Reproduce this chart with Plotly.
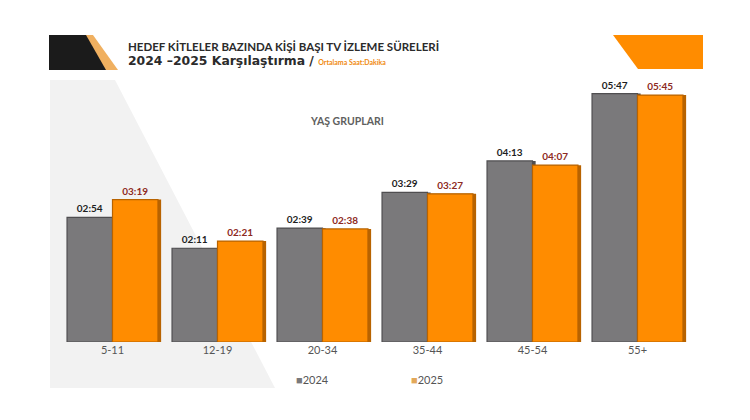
import plotly.graph_objects as go

# yaş grupları ve ortalama izleme süreleri (saat:dakika)
categories = ["5-11", "12-19", "20-34", "35-44", "45-54", "55+"]
times_2024 = ["02:54", "02:11", "02:39", "03:29", "04:13", "05:47"]
times_2025 = ["03:19", "02:21", "02:38", "03:27", "04:07", "05:45"]
years = ["2024", "2025"]


def to_minutes(t):
    h, m = t.split(":")
    return int(h) * 60 + int(m)


mins_2024 = [to_minutes(t) for t in times_2024]
mins_2025 = [to_minutes(t) for t in times_2025]

W, H = 750, 420
PAGE_PAD = 8  # sayfa kenar boşluğu
GRAY, GRAY_DARK = "#7a797b", "#4f4e50"
ORANGE, ORANGE_DARK = "#ff8c00", "#b86300"
FONT = "Lato"


def px(x):
    return (x - PAGE_PAD) / W


def py(y):
    return 1 - (y - PAGE_PAD) / H


bar_w = 0.433

fig = go.Figure()

# 3D görünüm için gölge (sağ yüz)
for vals, off, col in [(mins_2024, -bar_w + 0.03, GRAY_DARK), (mins_2025, 0.03, ORANGE_DARK)]:
    fig.add_trace(go.Bar(x=categories, y=vals, width=bar_w, offset=off,
                         marker=dict(color=col, line=dict(width=0)),
                         hoverinfo="skip", showlegend=False))

fig.add_trace(go.Bar(
    x=categories, y=mins_2024, name=years[0], width=bar_w, offset=-bar_w,
    marker=dict(color=GRAY, line=dict(color=GRAY_DARK, width=1.2)),
    text=times_2024, textposition="outside", cliponaxis=False,
    textfont=dict(family=FONT, size=10, color="#1e1e1e", weight="bold"),
    showlegend=False,
))
fig.add_trace(go.Bar(
    x=categories, y=mins_2025, name=years[1], width=bar_w, offset=0,
    marker=dict(color=ORANGE, line=dict(color=ORANGE_DARK, width=1.2)),
    text=times_2025, textposition="outside", cliponaxis=False,
    textfont=dict(family=FONT, size=10, color="#8e2a22", weight="bold"),
    showlegend=False,
))

shapes = [
    # sol arka plan açık gri alan
    dict(type="path", xref="paper", yref="paper", layer="below",
         path=f"M{px(50)},{py(80)} L{px(115)},{py(80)} L{px(275)},{py(388)} L{px(50)},{py(388)} Z",
         fillcolor="#f2f2f2", line=dict(width=0)),
    # sol üst siyah blok ve turuncu kenar
    dict(type="path", xref="paper", yref="paper",
         path=f"M{px(85)},{py(35)} L{px(93)},{py(35)} L{px(118)},{py(70)} L{px(105)},{py(70)} Z",
         fillcolor="#f0b060", line=dict(width=0)),
    dict(type="path", xref="paper", yref="paper",
         path=f"M{px(49)},{py(35)} L{px(86)},{py(35)} L{px(106)},{py(70)} L{px(49)},{py(70)} Z",
         fillcolor="#1b1b1b", line=dict(width=0)),
    # sağ üst turuncu blok
    dict(type="path", xref="paper", yref="paper",
         path=f"M{px(613)},{py(35)} L{px(703)},{py(35)} L{px(703)},{py(69)} L{px(638)},{py(69)} Z",
         fillcolor=ORANGE, line=dict(width=0)),
]

annotations = [
    dict(text="<b>HEDEF KİTLELER BAZINDA KİŞİ BAŞI TV İZLEME SÜRELERİ</b>",
         x=px(126), y=py(46), xanchor="left", yanchor="middle",
         font=dict(family=FONT, size=11.5, color="#2b2b2b")),
    dict(text="<b>2024 –2025 Karşılaştırma / </b><b><span style='color:#f08a10;font-family:Lato;font-size:7px'>Ortalama Saat:Dakika</span></b>",
         x=px(126), y=py(60), xanchor="left", yanchor="middle",
         font=dict(family="DejaVu Sans", size=12.4, color="#2b2b2b")),
    dict(text="<b>YAŞ GRUPLARI</b>", x=px(347), y=py(121), xanchor="center", yanchor="middle",
         font=dict(family=FONT, size=10.5, color="#606060")),
    dict(text=f"<span style='color:{GRAY}'>■</span>{years[0]}", x=px(294), y=py(379),
         xanchor="left", yanchor="middle", font=dict(family=FONT, size=11, color="#555555")),
    dict(text=f"<span style='color:#e3a85a'>■</span>{years[1]}", x=px(409), y=py(379),
         xanchor="left", yanchor="middle", font=dict(family=FONT, size=11, color="#555555")),
]
for a in annotations:
    a.update(xref="paper", yref="paper", showarrow=False)

fig.update_layout(
    width=W, height=H,
    margin=dict(l=0, r=0, t=0, b=0),
    paper_bgcolor="white", plot_bgcolor="rgba(0,0,0,0)",
    barmode="overlay",
    shapes=shapes, annotations=annotations,
    showlegend=False,
    xaxis=dict(domain=[px(60), px(690)], showgrid=False, zeroline=False, showline=False,
               ticks="", tickfont=dict(family=FONT, size=11, color="#555555")),
    yaxis=dict(domain=[py(342), py(70)], range=[0, 380], visible=False),
)

fig.write_html("out.html")
